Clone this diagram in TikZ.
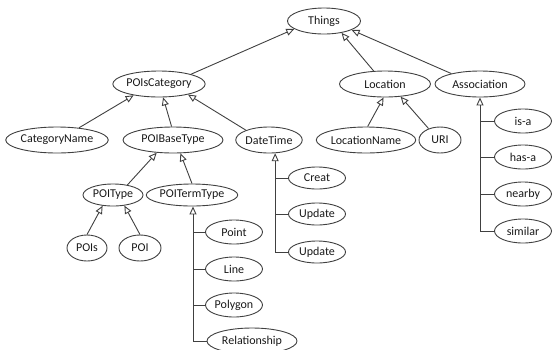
\documentclass[tikz,border=0pt]{standalone}
\usepackage{fontspec}
\setmainfont{Carlito}
\usetikzlibrary{shapes.geometric,arrows.meta,calc}
\definecolor{ln}{HTML}{404040}
\begin{document}
\begin{tikzpicture}[x=1pt,y=-1pt,
  cls/.style={ellipse,draw=ln,line width=0.9pt,inner sep=0pt,minimum height=26pt,font=\fontsize{12}{14}\selectfont,text=black!90},
  sm/.style={cls,minimum height=24pt},
  inh/.style={draw=ln,line width=0.9pt,-{Triangle[open,length=8pt,width=7pt]}},
  br/.style={draw=ln,line width=0.9pt}]
\useasboundingbox (0,0) rectangle (552,349);
\clip (0,0) rectangle (552,349);
% nodes
\node[cls,minimum width=73pt] (things) at (324,21) {Things};
\node[cls,minimum width=91pt] (poiscat) at (159,84) {POIsCategory};
\node[cls,minimum width=91pt] (loc) at (385,84) {Location};
\node[cls,minimum width=90pt] (assoc) at (480,84) {Association};
\node[cls,minimum width=100pt] (catname) at (57,140) {CategoryName};
\node[cls,minimum width=100pt] (basetype) at (173,140) {POIBaseType};
\node[cls,minimum width=62pt] (datetime) at (269,140) {DateTime};
\node[cls,minimum width=99pt] (locname) at (366,140) {LocationName};
\node[cls,minimum width=42pt] (uri) at (440,140) {URI};
\node[sm,minimum width=60pt,minimum height=22pt] (poitype) at (113,195) {POIType};
\node[sm,minimum width=90pt,minimum height=22pt] (termtype) at (192,195) {POITermType};
\node[cls,minimum width=40pt] (pois) at (87,248) {POIs};
\node[cls,minimum width=42pt] (poi) at (140,248) {POI};
\node[sm,minimum width=57pt,minimum height=22pt] (creat) at (317,178) {Creat};
\node[sm,minimum width=57pt,minimum height=22pt] (upd1) at (317,214) {Update};
\node[sm,minimum width=57pt,minimum height=22pt] (upd2) at (317,252) {Update};
\node[sm,minimum width=57pt] (point) at (234,232) {Point};
\node[sm,minimum width=57pt] (line) at (234,269) {Line};
\node[sm,minimum width=57pt] (polygon) at (234,305) {Polygon};
\node[cls,minimum width=90pt] (relship) at (252,341) {Relationship};
\node[sm,minimum width=57pt] (isa) at (523,121) {is-a};
\node[sm,minimum width=57pt] (hasa) at (523,157) {has-a};
\node[sm,minimum width=57pt] (nearby) at (523,194) {nearby};
\node[sm,minimum width=57pt] (similar) at (523,231) {similar};
% tree edges
\draw[inh] (poiscat.17) -- (things.-165);
\draw[inh] (loc.131) -- (things.-34);
\draw[inh] (assoc.160) -- (things.-18);
\draw[inh] (catname.29) -- (poiscat.-156);
\draw[inh] (basetype.96) -- (poiscat.-73);
\draw[inh] (datetime.157) -- (poiscat.-20);
\draw[inh] (locname.83) -- (loc.-96);
\draw[inh] (uri.135) -- (loc.-39);
\draw[inh] (poitype.35) -- (basetype.-142);
\draw[inh] (termtype.north) -- (basetype.-61);
\draw[inh] (pois.north) -- (poitype.-134);
\draw[inh] (poi.north) -- (poitype.-43);
% trunks
\coordinate (dtt) at (datetime.-65);
\draw[inh] (upd2.west) -| (dtt);
\draw[br] (creat.west) -- (creat.west -| dtt);
\draw[br] (upd1.west) -- (upd1.west -| dtt);
\coordinate (ttt) at ([xshift=1pt]termtype.south);
\draw[inh] (relship.west) -| (ttt);
\draw[br] (point.west) -- (point.west -| ttt);
\draw[br] (line.west) -- (line.west -| ttt);
\draw[br] (polygon.west) -- (polygon.west -| ttt);
\coordinate (att) at (assoc.south);
\draw[inh] (similar.west) -| (att);
\draw[br] (isa.west) -- (isa.west -| att);
\draw[br] (hasa.west) -- (hasa.west -| att);
\draw[br] (nearby.west) -- (nearby.west -| att);
\end{tikzpicture}
\end{document}
